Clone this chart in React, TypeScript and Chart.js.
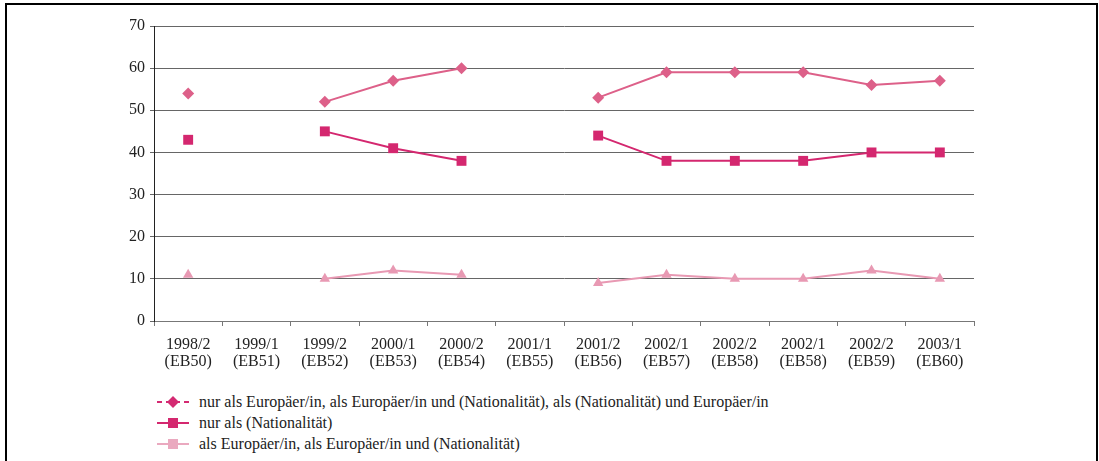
import React, { useEffect, useRef } from "react";
import { Chart, registerables } from "chart.js";

Chart.register(...registerables);

const categories: string[][] = [
  ["1998/2", "(EB50)"],
  ["1999/1", "(EB51)"],
  ["1999/2", "(EB52)"],
  ["2000/1", "(EB53)"],
  ["2000/2", "(EB54)"],
  ["2001/1", "(EB55)"],
  ["2001/2", "(EB56)"],
  ["2002/1", "(EB57)"],
  ["2002/2", "(EB58)"],
  ["2002/1", "(EB58)"],
  ["2002/2", "(EB59)"],
  ["2003/1", "(EB60)"],
];

const europeanAny: (number | null)[] = [54, null, 52, 57, 60, null, 53, 59, 59, 59, 56, 57];
const nationalOnly: (number | null)[] = [43, null, 45, 41, 38, null, 44, 38, 38, 38, 40, 40];
const europeanFirst: (number | null)[] = [11, null, 10, 12, 11, null, 9, 11, 10, 10, 12, 10];

const seriesNames: string[] = [
  "nur als Europäer/in, als Europäer/in und (Nationalität), als (Nationalität) und Europäer/in",
  "nur als (Nationalität)",
  "als Europäer/in, als Europäer/in und (Nationalität)",
];

const yTicks: number[] = [0, 10, 20, 30, 40, 50, 60, 70];

const FONT = "'Liberation Serif', 'Times New Roman', Tinos, 'DejaVu Serif', 'Noto Serif', serif";

export default function App() {
  const ref = useRef<HTMLCanvasElement | null>(null);

  useEffect(() => {
    document.body.style.margin = "0";
    const canvas = ref.current;
    if (!canvas) return;
    const chart = new Chart(canvas, {
      type: "line",
      data: {
        labels: categories,
        datasets: [
          {
            label: seriesNames[0],
            data: europeanAny,
            borderColor: "#dd6089",
            backgroundColor: "#dd6089",
            borderWidth: 2,
            pointStyle: "rectRot",
            pointRadius: 6,
            pointBorderWidth: 0,
            spanGaps: false,
          },
          {
            label: seriesNames[1],
            data: nationalOnly,
            borderColor: "#d4276f",
            backgroundColor: "#d4276f",
            borderWidth: 2,
            pointStyle: "rect",
            pointRadius: 7,
            pointBorderWidth: 0,
            spanGaps: false,
          },
          {
            label: seriesNames[2],
            data: europeanFirst,
            borderColor: "#e899b3",
            backgroundColor: "#e899b3",
            borderWidth: 2,
            pointStyle: "triangle",
            pointRadius: 6,
            pointBorderWidth: 0,
            spanGaps: false,
          },
        ],
      },
      options: {
        animation: false,
        responsive: false,
        devicePixelRatio: 1,
        layout: { padding: { left: 0, right: 125, top: 26, bottom: 0 } },
        plugins: {
          legend: { display: false },
          tooltip: { enabled: false },
        },
        scales: {
          x: {
            offset: true,
            grid: {
              offset: true,
              drawOnChartArea: false,
              drawTicks: true,
              tickLength: 5,
              color: "#777",
            },
            border: { color: "#777", width: 1 },
            ticks: {
              color: "#222",
              font: { family: FONT, size: 16, lineHeight: 1.06 },
              padding: 10,
              maxRotation: 0,
              autoSkip: false,
            },
            afterFit: (scale: any) => {
              scale.height = 59;
            },
          },
          y: {
            min: 0,
            max: 70,
            afterBuildTicks: (scale: any) => {
              scale.ticks = yTicks.map((v) => ({ value: v }));
            },
            grid: {
              color: "#666",
              lineWidth: 1,
              drawTicks: true,
              tickLength: 4,
            },
            border: { color: "#222", width: 1 },
            ticks: {
              color: "#222",
              font: { family: FONT, size: 16 },
              padding: 5,
            },
            afterFit: (scale: any) => {
              scale.width = 154;
            },
          },
        },
      },
    });
    return () => chart.destroy();
  }, []);

  const legendRow = (i: number) => {
    const colors = ["#d42a72", "#d4286f", "#eaa9bf"];
    const c = colors[i];
    return (
      <div
        key={i}
        style={{
          position: "absolute",
          left: 157,
          top: 392 + i * 21,
          height: 20,
          display: "flex",
          alignItems: "center",
          whiteSpace: "nowrap",
        }}
      >
        <svg width={34} height={16} style={{ display: "block" }}>
          {i === 0 ? (
            <>
              <line x1={0} y1={8} x2={32} y2={8} stroke={c} strokeWidth={2} strokeDasharray="5 4" />
              <polygon points="16,2 22,8 16,14 10,8" fill={c} />
            </>
          ) : (
            <>
              <line x1={0} y1={8} x2={32} y2={8} stroke={c} strokeWidth={2} />
              <rect x={11} y={3} width={10} height={10} fill={c} />
            </>
          )}
        </svg>
        <span
          style={{
            marginLeft: 8,
            fontFamily: FONT,
            fontSize: 16,
            color: "#222",
          }}
        >
          {seriesNames[i]}
        </span>
      </div>
    );
  };

  return (
    <div style={{ position: "fixed", left: 0, top: 0, width: 1099, height: 461, overflow: "hidden", background: "#fff" }}>
      <div
        style={{
          position: "absolute",
          left: 5,
          top: 3,
          width: 1093,
          height: 470,
          boxSizing: "border-box",
          border: "2px solid #000",
          borderBottom: "none",
        }}
      />
      <canvas
        ref={ref}
        width={1099}
        height={380}
        style={{ position: "absolute", left: 0, top: 0, width: 1099, height: 380 }}
      />
      {[0, 1, 2].map(legendRow)}
    </div>
  );
}
